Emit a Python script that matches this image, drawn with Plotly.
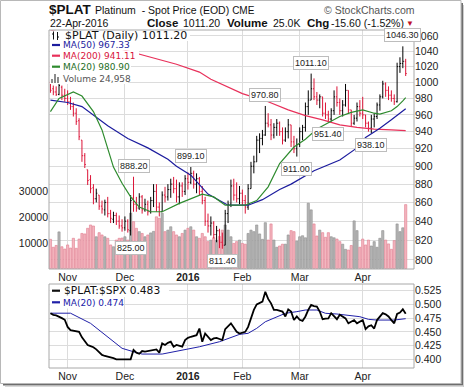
import math
import pandas as pd
import plotly.graph_objects as go

W, H = 464, 387
def px(x): return x / W
def py(y): return 1 - y / H

holidays = ["2015-11-26", "2015-12-25", "2016-01-01", "2016-01-18", "2016-02-15", "2016-03-25"]
days = [d.strftime("%Y-%m-%d") for d in pd.bdate_range("2015-10-23", "2016-04-22")
        if d.strftime("%Y-%m-%d") not in holidays]

opens = [1000, 992, 988, 985, 994, 984, 980, 976, 970, 962, 953, 930, 912, 896, 885, 876, 864, 868, 856, 852,
         860, 848, 842, 846, 840, 835, 833, 840, 830, 865, 858, 854, 866, 852, 858, 850, 862, 872, 855, 850,
         868, 866, 874, 880, 875, 866, 878, 872, 886, 882, 892, 880, 886, 872, 862, 840, 835, 838, 826, 830,
         818, 815, 848, 858, 878, 868, 864, 870, 862, 855, 875, 900, 905, 930, 932, 936, 950, 948, 936, 945,
         950, 940, 930, 940, 948, 928, 920, 925, 940, 945, 970, 978, 992, 982, 978, 982, 962, 960, 955, 965,
         982, 975, 965, 972, 990, 966, 950, 956, 970, 962, 960, 950, 944, 955, 958, 972, 982, 998, 990, 984,
         980, 976, 1020, 1024, 1026.8]
highs = [1003, 996, 995, 1000, 996, 992, 990, 982, 975, 968, 956, 930, 915, 896, 890, 880, 875, 868, 862, 863,
         866, 852, 850, 849, 846, 842, 845, 842, 868, 888.2, 866, 870, 868, 864, 862, 866, 880, 880, 860, 872,
         877, 880, 886, 888, 885, 882, 882, 890, 893, 899.1, 895, 892, 888, 878, 866, 848, 845, 840, 835, 832,
         828, 852, 862, 885, 886, 882, 878, 874, 868, 880, 905, 912, 935, 938, 942, 970.8, 962, 955, 950, 955,
         952, 945, 945, 955, 948, 935, 932, 945, 948, 975, 990, 1011.1, 1005, 988, 985, 982, 975, 965, 968, 990,
         995, 980, 978, 998, 990, 966, 960, 975, 978, 982, 960, 952, 960, 962, 975, 985, 1002, 1000, 995, 990,
         985, 1025, 1032, 1046.3, 1030]
lows = [987, 984, 983, 984, 978, 976, 972, 966, 958, 948, 930, 905, 898, 879, 870, 858, 860, 852, 848, 846,
        844, 838, 838, 836, 832, 829, 830, 828, 825, 850, 850, 852, 848, 850, 846, 848, 855, 850, 845, 850,
        860, 862, 865, 870, 860, 858, 866, 868, 874, 880, 875, 870, 868, 858, 835, 828, 825, 822, 818, 812,
        811.4, 815, 838, 855, 862, 860, 858, 857, 848, 852, 875, 892, 905, 915, 924, 935, 945, 930, 932, 935,
        935, 925, 928, 932, 922, 915, 911, 922, 930, 940, 960, 978, 978, 972, 968, 958, 955, 951.4, 952, 960,
        970, 960, 958, 970, 962, 946, 948, 952, 958, 955, 945, 940, 938.1, 945, 955, 965, 980, 982, 978, 976,
        972, 975, 1012, 1018, 1008]
closes = [990, 988, 985, 996, 984, 980, 976, 970, 962, 952, 934, 912, 902, 884, 875, 864, 870, 856, 853, 860,
          848, 843, 846, 840, 835, 833, 840, 831, 862, 858, 854, 866, 852, 858, 850, 862, 872, 855, 850, 868,
          866, 874, 880, 875, 866, 878, 872, 886, 882, 892, 880, 886, 872, 862, 840, 835, 838, 826, 830, 818,
          815, 848, 858, 878, 868, 864, 870, 862, 855, 875, 900, 905, 930, 932, 936, 950, 948, 936, 945, 950,
          940, 930, 940, 948, 928, 920, 925, 940, 945, 970, 978, 992, 982, 978, 982, 962, 960, 955, 965, 982,
          975, 965, 972, 990, 966, 950, 956, 970, 962, 960, 950, 944, 955, 958, 972, 982, 998, 990, 984, 980,
          976, 1020, 1024, 1026.8, 1011.2]
volume = [11400, 8300, 9000, 14300, 8500, 7600, 9200, 8000, 11800, 7900,
          11500, 13700, 13500, 15700, 17000, 16600, 12400, 14000, 13100, 12400,
          11800, 9200, 8500, 11100, 11800, 11900, 12400, 11100, 21600, 18300,
          15700, 14400, 13700, 12400, 13100, 13900, 14500, 20200, 19600, 21600,
          14400, 15000, 16300, 14400, 13100, 12400, 13700, 15000, 15700, 16300,
          15000, 12400, 11800, 13700, 12400, 10500, 11100, 12000, 11000, 12500,
          15000, 17000, 15000, 12400, 9800, 10500, 11100, 9800, 9500, 13700,
          15000, 14400, 17000, 13500, 11400, 17900, 11100, 17400, 11100, 8300,
          8800, 9500, 9500, 13100, 14800, 14400, 10700, 12400, 12800, 12000,
          25500, 22900, 17400, 12700, 15000, 14000, 12200, 14000, 12400, 12000,
          11500, 10500, 9500, 7500, 7200, 9000, 18600, 14800, 8300, 11500,
          9200, 11100, 8800, 10500, 8300, 11800, 14800, 11100, 9600, 7500,
          10900, 17400, 14400, 15900, 24958]
ratio = [0.484, 0.481, 0.480, 0.478, 0.475, 0.472, 0.459, 0.453, 0.452, 0.451,
         0.450, 0.440, 0.432, 0.426, 0.424, 0.422, 0.418, 0.412, 0.408, 0.406,
         0.405, 0.404, 0.402, 0.400, 0.400, 0.399, 0.399, 0.399, 0.400, 0.417,
         0.412, 0.410, 0.415, 0.414, 0.415, 0.416, 0.417, 0.418, 0.412, 0.429,
         0.426, 0.430, 0.432, 0.423, 0.426, 0.425, 0.423, 0.435, 0.439, 0.441,
         0.443, 0.444, 0.456, 0.432, 0.447, 0.440, 0.435, 0.438, 0.439, 0.437,
         0.435, 0.455, 0.460, 0.4655, 0.458, 0.450, 0.447, 0.448, 0.450, 0.459,
         0.475, 0.490, 0.500, 0.502, 0.505, 0.523, 0.510, 0.502, 0.490, 0.490,
         0.489, 0.487, 0.478, 0.491, 0.487, 0.4715, 0.478, 0.472, 0.470, 0.478,
         0.490, 0.499, 0.497, 0.496, 0.487, 0.473, 0.474, 0.4745, 0.484, 0.478,
         0.473, 0.481, 0.477, 0.4745, 0.4655, 0.468, 0.4715, 0.4655, 0.468, 0.4715,
         0.455, 0.460, 0.462, 0.456, 0.4715, 0.478, 0.484, 0.482, 0.478, 0.4715,
         0.4655, 0.4825, 0.485, 0.491, 0.483]

ma50_dates = ["2015-10-23", "2015-11-02", "2015-11-09", "2015-11-13", "2015-11-20", "2015-12-02", "2015-12-11",
              "2015-12-22", "2015-12-28", "2016-01-05", "2016-01-13", "2016-01-25", "2016-02-03", "2016-02-10",
              "2016-02-19", "2016-02-25", "2016-03-08", "2016-03-21", "2016-03-30", "2016-04-04", "2016-04-11",
              "2016-04-15", "2016-04-22"]
ma50_vals = [978, 975, 970, 960, 947, 932, 921, 908, 900, 890, 869, 857, 857, 863, 874, 880, 895, 907, 921,
             933, 944, 954, 967.33]
ma20_dates = ["2015-10-23", "2015-10-28", "2015-11-04", "2015-11-09", "2015-11-13", "2015-11-18", "2015-11-24",
              "2015-11-30", "2015-12-03", "2015-12-08", "2015-12-14", "2015-12-18", "2015-12-29", "2016-01-05",
              "2016-01-11", "2016-01-15", "2016-01-22", "2016-02-02", "2016-02-08", "2016-02-12", "2016-02-19",
              "2016-02-26", "2016-03-03", "2016-03-09", "2016-03-15", "2016-03-21", "2016-03-28", "2016-04-01",
              "2016-04-07", "2016-04-11", "2016-04-15", "2016-04-19", "2016-04-21", "2016-04-22"]
ma20_vals = [964, 980, 988, 983, 964, 942, 899, 881, 866, 855, 850, 850, 859, 864, 869, 866, 857, 857, 862,
             877, 903, 922, 931, 943, 950, 958, 963, 966, 962, 961, 965, 970, 977, 980.9]
ma200_dates = ["2015-10-23", "2015-12-02", "2015-12-28", "2016-01-08", "2016-01-14", "2016-02-01", "2016-02-12",
               "2016-02-24", "2016-03-03", "2016-03-11", "2016-03-21", "2016-03-30", "2016-04-07", "2016-04-15",
               "2016-04-22"]
ma200_vals = [1068, 1040, 1023, 1013, 1004, 986, 976, 966, 959, 954, 948, 945, 943, 942, 941.11]
rma_dates = ["2015-10-23", "2015-11-03", "2015-11-12", "2015-11-20", "2015-11-30", "2015-12-04", "2015-12-09",
             "2015-12-18", "2015-12-29", "2016-01-08", "2016-01-20", "2016-01-29", "2016-02-03", "2016-02-08",
             "2016-02-11", "2016-02-18", "2016-02-23", "2016-02-29", "2016-03-03", "2016-03-09", "2016-03-14",
             "2016-03-18", "2016-03-23", "2016-03-31", "2016-04-05", "2016-04-08", "2016-04-18", "2016-04-22"]
rma_vals = [0.484, 0.484, 0.4655, 0.441, 0.420, 0.4137, 0.4095, 0.4095, 0.4155, 0.4228, 0.432, 0.4454, 0.4473,
            0.4564, 0.4684, 0.4776, 0.4838, 0.4868, 0.4898, 0.4898, 0.4838, 0.4825, 0.4807, 0.4776, 0.4728,
            0.4715, 0.4715, 0.474]

month_ticks = ["2015-11-02", "2015-12-01", "2016-01-04", "2016-02-01", "2016-03-01", "2016-04-01"]
month_text = ["Nov", "Dec", "<b>2016</b>", "Feb", "Mar", "Apr"]
price_ticks = [800, 820, 840, 860, 880, 900, 920, 940, 960, 980, 1000, 1020, 1040, 1060]
vol_ticks = [10000, 20000, 30000]
ratio_ticks = [0.400, 0.425, 0.450, 0.475, 0.500, 0.525]

pivots = [("2015-12-04", 888.2, True), ("2015-12-03", 825.0, False), ("2016-01-05", 899.1, True),
          ("2016-01-21", 811.4, False), ("2016-02-11", 970.8, True), ("2016-02-29", 911.0, False),
          ("2016-03-07", 1011.1, True), ("2016-03-15", 951.4, False), ("2016-04-06", 938.1, False),
          ("2016-04-21", 1046.3, True)]

RED = "#dc1437"
up = [closes[0] >= opens[0]] + [closes[i] >= closes[i - 1] for i in range(1, len(closes))]

fig = go.Figure()
fig.add_trace(go.Bar(x=days, y=volume, xaxis="x", yaxis="y", width=0.78,
                     marker=dict(color=["#b5b5b5" if u else "#f3b6bf" for u in up],
                                 line=dict(color=["#8e8e8e" if u else "#e17c8e" for u in up], width=0.6)),
                     showlegend=False, hoverinfo="skip"))
for flag, col in [(True, "#000000"), (False, RED)]:
    sel = [i for i, u in enumerate(up) if u == flag]
    fig.add_trace(go.Ohlc(x=[days[i] for i in sel], open=[opens[i] for i in sel], high=[highs[i] for i in sel],
                          low=[lows[i] for i in sel], close=[closes[i] for i in sel], xaxis="x", yaxis="y2",
                          increasing=dict(line=dict(color=col, width=1)),
                          decreasing=dict(line=dict(color=col, width=1)),
                          tickwidth=0.35, showlegend=False, hoverinfo="skip"))
fig.add_trace(go.Scatter(x=ma200_dates, y=ma200_vals, mode="lines", line=dict(color="#e8305a", width=1.2),
                         xaxis="x", yaxis="y2", showlegend=False))
fig.add_trace(go.Scatter(x=ma50_dates, y=ma50_vals, mode="lines", line=dict(color="#1c1c9e", width=1.2),
                         xaxis="x", yaxis="y2", showlegend=False))
fig.add_trace(go.Scatter(x=ma20_dates, y=ma20_vals, mode="lines", line=dict(color="#2e8b2e", width=1.2),
                         xaxis="x", yaxis="y2", showlegend=False))
fig.add_trace(go.Scatter(x=rma_dates, y=rma_vals, mode="lines", line=dict(color="#2020a8", width=1),
                         xaxis="x2", yaxis="y3", showlegend=False))
fig.add_trace(go.Scatter(x=days, y=ratio, mode="lines", line=dict(color="#000000", width=1.8),
                         xaxis="x2", yaxis="y3", showlegend=False))

LS, DJ = "Liberation Sans, Arial", "DejaVu Sans"
tickfont = dict(family=LS, size=10.5, color="#222222")
GRID = "#dcdcdc"
xcommon = dict(type="category", categoryorder="array", categoryarray=days, range=[-0.5, 126.9],
               autorange=False, tickvals=month_ticks, ticktext=month_text, showgrid=True, gridcolor=GRID,
               gridwidth=1, ticks="", ticklen=0, tickfont=tickfont, zeroline=False, showline=False,
               fixedrange=True, automargin=False)
ycommon = dict(zeroline=False, ticks="", ticklen=0, tickfont=tickfont, automargin=False, fixedrange=True)

fig.update_layout(
    width=W, height=H, margin=dict(l=0, r=0, t=0, b=0, autoexpand=False),
    paper_bgcolor="white", plot_bgcolor="white", showlegend=False, bargap=0,
    xaxis=dict(domain=[px(49), px(414)], anchor="y", rangeslider=dict(visible=False), **xcommon),
    xaxis2=dict(domain=[px(49), px(414)], anchor="y3", **xcommon),
    yaxis=dict(domain=[py(269), py(30)], anchor="x", side="left", range=[-195, 93160],
               tickvals=vol_ticks, ticktext=[str(v) for v in vol_ticks], showgrid=False, **ycommon),
    yaxis2=dict(overlaying="y", anchor="x", side="right", type="log",
                range=[math.log10(791), math.log10(1068)], tickvals=price_ticks,
                ticktext=[str(v) for v in price_ticks], showgrid=True, gridcolor=GRID, **ycommon),
    yaxis3=dict(domain=[py(368), py(284)], anchor="x2", side="right", range=[0.3841, 0.5372],
                tickvals=ratio_ticks, ticktext=["%.3f" % v for v in ratio_ticks], showgrid=True,
                gridcolor=GRID, **ycommon),
)

shapes = []
def rect(x0, y0, x1, y1, **kw):
    shapes.append(dict(type="rect", xref="paper", yref="paper", x0=px(x0), x1=px(x1), y0=py(y1), y1=py(y0),
                       layer="above", **kw))
def line(x0, y0, x1, y1, color, width=1):
    shapes.append(dict(type="line", xref="paper", yref="paper", x0=px(x0), x1=px(x1), y0=py(y0), y1=py(y1),
                       layer="above", line=dict(color=color, width=width)))

for (x1, y0, y1) in [(190, 30.5, 41), (129, 41, 50.5), (139, 50.5, 61.2), (131, 61.2, 72.3), (128, 72.3, 84)]:
    rect(49.5, y0, x1, y1, fillcolor="white", line=dict(width=0))
for (x1, y0, y1) in [(169, 284.5, 297), (123, 297, 308.5)]:
    rect(49.5, y0, x1, y1, fillcolor="white", line=dict(width=0))
line(53.5, 31.5, 53.5, 39.5, "#111111", 1); line(52, 34, 53.5, 34, "#111111", 1)
line(57.5, 32, 57.5, 40, "#111111", 1); line(57.5, 37, 59, 37, "#111111", 1)
line(52, 45, 60, 45, "#1c1c9e", 2.2)
line(52, 55.7, 60, 55.7, "#e8305a", 2.2)
line(52, 66.7, 60, 66.7, "#2e8b2e", 2.2)
for (a, b, top) in [(51, 53, 79), (54, 56, 74), (57, 59, 77)]:
    rect(a, top, b, 83, fillcolor="#8c8c8c", line=dict(width=0))
line(52, 290.7, 60, 290.7, "#111111", 2.2)
line(52, 302.3, 60, 302.3, "#2020a8", 2.2)
rect(49, 30, 414, 269, line=dict(color="#a8a8a8", width=1), fillcolor="rgba(0,0,0,0)")
rect(49, 284, 414, 368, line=dict(color="#a8a8a8", width=1), fillcolor="rgba(0,0,0,0)")
rect(0.5, 0.5, 461, 383.5, line=dict(color="#b8b8b8", width=1), fillcolor="rgba(0,0,0,0)")
line(462.2, 3, 462.2, 385, "#6e6e6e", 1.6)
line(3, 384.7, 463, 384.7, "#6e6e6e", 1.6)
line(463.6, 5, 463.6, 387, "#c8c8c8", 1)
line(5, 386.2, 464, 386.2, "#c8c8c8", 1)

ann = []
def text(x, y, s, size, color="#111111", family=LS):
    ann.append(dict(xref="paper", yref="paper", x=px(x), y=py(y), text=s, showarrow=False,
                    xanchor="left", yanchor="middle", font=dict(family=family, size=size, color=color)))

text(47, 9.5, "<b>$PLAT</b>", 13.5)
text(93, 10, "Platinum  - Spot Price (EOD) <span style='font-size:10px'>CME</span>", 10.5)
text(322, 10, "\u00a9 StockCharts.com", 10.5, color="#555555")
text(48, 22.7, "22-Apr-2016", 10.5)
text(145, 22.7, "<b>Close</b>", 11.5)
text(181, 22.7, "1011.20", 10.5)
text(225, 22.7, "<b>Volume</b>", 11.5)
text(271, 22.7, "25.0K", 10.5)
text(305, 22.7, "<b>Chg</b>", 11.5)
text(329, 22.7, "-15.60 (-1.52%)", 10.5)
text(404, 23, "\u25bc", 8, color="#c0102a")

text(63, 35.7, "$PLAT (Daily) 1011.20", 11, family=DJ)
text(61, 45.2, "MA(50) 967.33", 9, color="#1c1c9e", family=DJ)
text(61, 55.9, "MA(200) 941.11", 9, color="#d8143c", family=DJ)
text(61, 66.9, "MA(20) 980.90", 9, color="#1e6e1e", family=DJ)
text(61, 78.5, "Volume 24,958", 9, color="#555555", family=DJ)
text(62, 290.7, "$PLAT:$SPX 0.483", 10.7, family=DJ)
text(61, 302.5, "MA(20) 0.474", 9, color="#2020a8", family=DJ)

for d, p, above in pivots:
    ann.append(dict(xref="x", yref="y2", x=d, y=math.log10(p), text="%.2f" % p, showarrow=False,
                    yshift=11 if above else -12, xanchor="center", yanchor="middle",
                    font=dict(family=LS, size=9, color="#222222"),
                    bgcolor="white", bordercolor="#bdbdbd", borderwidth=1, borderpad=1))

fig.update_layout(shapes=shapes, annotations=ann)
fig.write_html("out.html", post_script=(
    "document.body.style.margin='0px';"
    "var gd=document.getElementById('{plot_id}');"
    "Plotly.newPlot(gd, gd.data, gd.layout, {staticPlot: true});"))
